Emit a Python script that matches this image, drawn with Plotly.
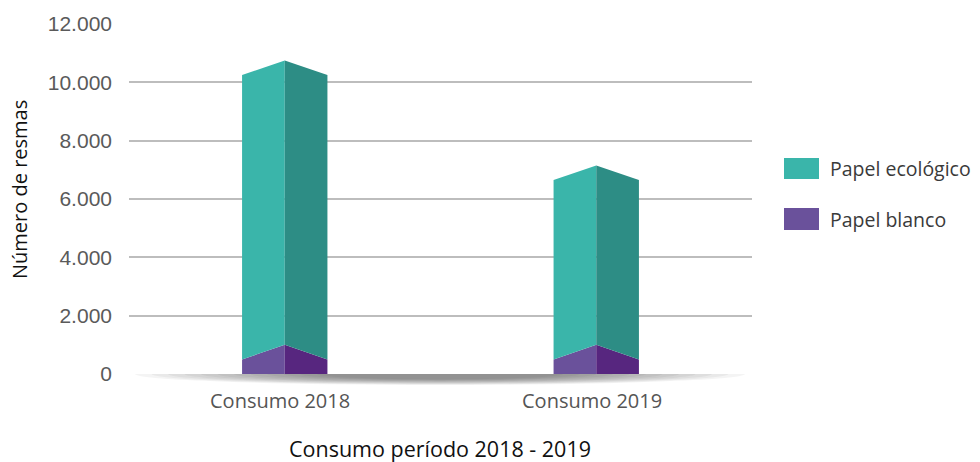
import plotly.graph_objects as go

# Paper consumption (reams) per period
categories = ["Consumo 2018", "Consumo 2019"]
series_names = ["Papel ecológico", "Papel blanco"]
papel_blanco = [500, 500]
papel_ecologico = [9750, 6150]
y_ticks = [0, 2000, 4000, 6000, 8000, 10000, 12000]

# Prism styling
HALF_W = 0.137      # half bar width in category units
ROOF = 500          # height of the roof ridge above the side edges
colors = {
    "Papel ecológico": ("#3AB5AA", "#2D8D85"),
    "Papel blanco": ("#6A519B", "#57267F"),
}
TEXT_FONT = "Open Sans"

fig = go.Figure()


def face(xc, lo, hi, side, lo_flat):
    """Polygon for the left (-1) or right (+1) face of one stacked segment."""
    xe = xc + side * HALF_W
    lo_mid = lo if lo_flat else lo + ROOF
    xs = [xe, xc, xc, xe, xe]
    ys = [lo, lo_mid, hi + ROOF, hi, lo]
    return xs, ys


for i, cat in enumerate(categories):
    b = papel_blanco[i]
    t = b + papel_ecologico[i]
    segments = [("Papel blanco", 0, b, True), ("Papel ecológico", b, t, False)]
    for name, lo, hi, flat in segments:
        for side, col in zip((-1, 1), colors[name]):
            xs, ys = face(i, lo, hi, side, flat)
            fig.add_trace(go.Scatter(
                x=xs, y=ys, mode="lines", fill="toself", fillcolor=col,
                line=dict(width=0), hoverinfo="skip", showlegend=False,
                name=name,
            ))

# Plot area in pixels
L, R, T, B = 129, 228, 24, 88
W, H = 980, 462
pw, ph = W - L - R, H - T - B


def px_x(p):
    return (p - L) / pw


def px_y(p):
    return (H - B - p) / ph


shapes = []
# soft floor shadow under the baseline
n = 12
for k in range(n):
    f = k / n
    rx = 305 * (1 - 0.65 * f)
    ry = 11 * (1 - 0.55 * f)
    cx, cy = 440, 374
    shapes.append(dict(
        type="circle", xref="paper", yref="paper", layer="below",
        x0=px_x(cx - rx), x1=px_x(cx + rx), y0=px_y(cy + ry), y1=px_y(cy - ry),
        fillcolor="rgba(0,0,0,0.045)", line=dict(width=0),
    ))
# keep the shadow only below the floor line
shapes.append(dict(
    type="rect", xref="paper", yref="paper", layer="below",
    x0=-0.05, x1=1.05, y0=0, y1=1, fillcolor="white", line=dict(width=0),
))

# legend swatches
legend_rows = [(158, 179), (208, 230)]
annotations = []
for name, (ya, yb) in zip(series_names, legend_rows):
    shapes.append(dict(
        type="rect", xref="paper", yref="paper",
        x0=px_x(784), x1=px_x(819), y0=px_y(yb), y1=px_y(ya),
        fillcolor=colors[name][0], line=dict(width=0),
    ))
    annotations.append(dict(
        x=px_x(828), y=px_y((ya + yb) / 2), xref="paper", yref="paper",
        text=name, showarrow=False, xanchor="left", yanchor="middle",
        font=dict(family=TEXT_FONT, size=19.5, color="#3a3a3a"),
    ))

# category labels under each prism
for i, cat in enumerate(categories):
    annotations.append(dict(
        x=i - 0.015, y=px_y(400), xref="x", yref="paper",
        text=cat, showarrow=False, xanchor="center", yanchor="middle",
        font=dict(family=TEXT_FONT, size=20, color="#555555"),
    ))

annotations.append(dict(
    x=px_x(19), y=px_y(190), xref="paper", yref="paper",
    text="Número de resmas", textangle=-90, showarrow=False,
    xanchor="center", yanchor="middle",
    font=dict(family=TEXT_FONT, size=20, color="#111111"),
))
annotations.append(dict(
    x=px_x(440), y=px_y(448), xref="paper", yref="paper",
    text="Consumo período 2018 - 2019", showarrow=False,
    xanchor="center", yanchor="middle",
    font=dict(family=TEXT_FONT, size=21.5, color="#111111"),
))

fig.update_layout(
    width=W, height=H,
    margin=dict(l=L, r=R, t=T, b=B),
    paper_bgcolor="white", plot_bgcolor="rgba(0,0,0,0)",
    separators=",.",
    showlegend=False,
    shapes=shapes,
    annotations=annotations,
    xaxis=dict(
        range=[-0.5, len(categories) - 0.5],
        showticklabels=False,
        showgrid=False, zeroline=False, showline=False, ticks="",
        fixedrange=True,
    ),
    yaxis=dict(
        range=[0, 12000], tickvals=y_ticks, tickformat=",d",
        showgrid=True, gridcolor="#BDBDBD", gridwidth=1.5,
        zeroline=True, zerolinecolor="rgba(0,0,0,0)",
        showline=False, ticks="", ticklabelstandoff=16,
        tickfont=dict(family="Liberation Sans", size=21, color="#5a5a5a"),
        fixedrange=True,
    ),
)

fig.write_html("out.html")
